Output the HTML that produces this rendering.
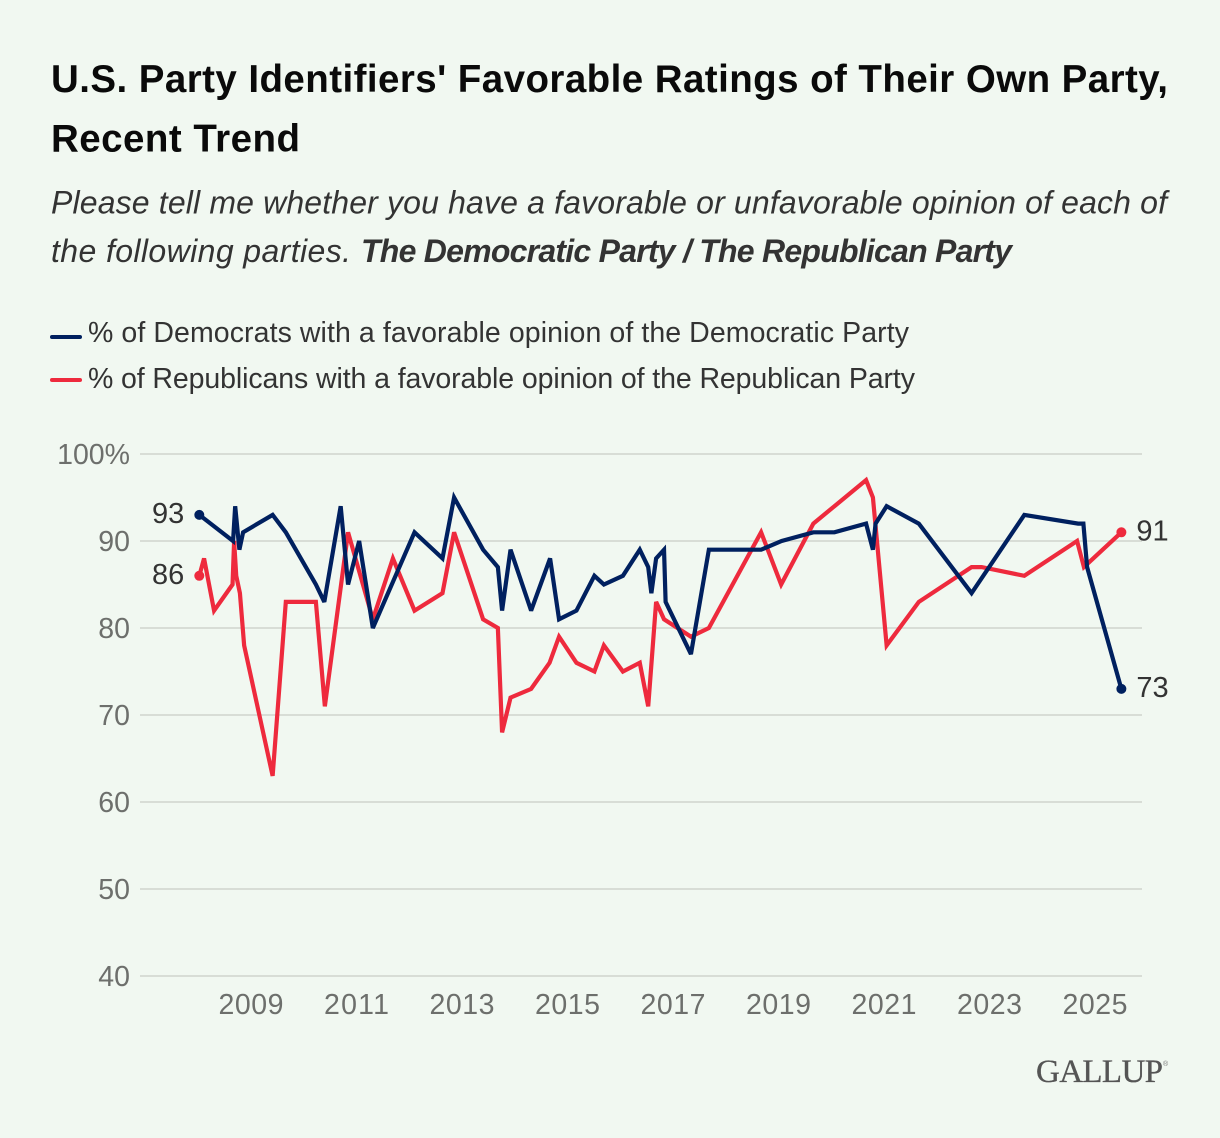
<!DOCTYPE html>
<html lang="en">
<head>
<meta charset="utf-8">
<title>U.S. Party Identifiers' Favorable Ratings of Their Own Party</title>
<style>
html,body{margin:0;padding:0;background:#f1f8f1;}
svg{display:block;font-family:"Liberation Sans",sans-serif;}
</style>
</head>
<body>
<svg id="chart" xmlns="http://www.w3.org/2000/svg" width="1220" height="1138" viewBox="0 0 1220 1138">
  <rect x="0" y="0" width="1220" height="1138" fill="#f1f8f1"/>
  <text x="51" y="92" font-size="38.5" font-weight="700" fill="#0a0a0a" textLength="1117" lengthAdjust="spacing">U.S. Party Identifiers' Favorable Ratings of Their Own Party,</text>
  <text x="51" y="151.5" font-size="38.5" font-weight="700" fill="#0a0a0a" textLength="249" lengthAdjust="spacing">Recent Trend</text>
  <text x="51" y="213.5" font-size="32" font-style="italic" fill="#333" textLength="1116" lengthAdjust="spacing">Please tell me whether you have a favorable or unfavorable opinion of each of</text>
  <text x="51" y="262" font-size="32" font-style="italic" fill="#333" textLength="300" lengthAdjust="spacing">the following parties.</text>
  <text x="361" y="262" font-size="32" font-style="italic" font-weight="700" fill="#333" textLength="651" lengthAdjust="spacing">The Democratic Party / The Republican Party</text>

  <line x1="52" y1="337" x2="80" y2="337" stroke="#00205f" stroke-width="4" stroke-linecap="round"/>
  <text x="88" y="342" font-size="28.5" fill="#333" textLength="821" lengthAdjust="spacing">% of Democrats with a favorable opinion of the Democratic Party</text>
  <line x1="52" y1="380" x2="80" y2="380" stroke="#ee2a3d" stroke-width="4" stroke-linecap="round"/>
  <text x="88" y="388" font-size="28.5" fill="#333" textLength="827" lengthAdjust="spacing">% of Republicans with a favorable opinion of the Republican Party</text>

  <g id="grid"></g>
  <g id="ylabels"></g>
  <g id="xlabels"></g>
  <g id="series"></g>
  <g id="endlabels"></g>

  <text x="1036" y="1082" font-family="'Liberation Serif',serif" font-size="33" fill="#555" stroke="#555" stroke-width="0.3" textLength="127" lengthAdjust="spacing">GALLUP</text>
  <text x="1163" y="1066" font-family="'Liberation Sans',sans-serif" font-size="7" fill="#777">®</text>
</svg>
<script>
const yTicks = [40, 50, 60, 70, 80, 90, 100];
const xTicks = [2009, 2011, 2013, 2015, 2017, 2019, 2021, 2023, 2025];

const demDates = [2008.02, 2008.66, 2008.70, 2008.78, 2008.85, 2009.41, 2009.66, 2010.23, 2010.39, 2010.70, 2010.84, 2011.05, 2011.31, 2012.10, 2012.63, 2012.85, 2013.40, 2013.68, 2013.76, 2013.92, 2014.31, 2014.67, 2014.84, 2015.17, 2015.51, 2015.69, 2016.05, 2016.37, 2016.53, 2016.59, 2016.68, 2016.83, 2016.86, 2017.34, 2017.68, 2018.67, 2019.06, 2019.66, 2020.06, 2020.66, 2020.79, 2020.84, 2021.05, 2021.66, 2022.66, 2023.66, 2024.68, 2024.78, 2024.85, 2025.50];
const demValues = [93, 90, 94, 89, 91, 93, 91, 85, 83, 94, 85, 90, 80, 91, 88, 95, 89, 87, 82, 89, 82, 88, 81, 82, 86, 85, 86, 89, 87, 84, 88, 89, 83, 77, 89, 89, 90, 91, 91, 92, 89, 92, 94, 92, 84, 93, 92, 92, 87, 73];

const repDates = [2008.02, 2008.11, 2008.30, 2008.65, 2008.68, 2008.72, 2008.79, 2008.87, 2009.41, 2009.66, 2010.23, 2010.40, 2010.84, 2011.31, 2011.69, 2012.10, 2012.63, 2012.85, 2013.40, 2013.68, 2013.76, 2013.92, 2014.31, 2014.66, 2014.84, 2015.17, 2015.51, 2015.69, 2016.05, 2016.37, 2016.53, 2016.68, 2016.83, 2017.34, 2017.68, 2018.67, 2019.05, 2019.66, 2020.06, 2020.66, 2020.79, 2021.05, 2021.66, 2022.66, 2022.85, 2023.66, 2024.66, 2024.79, 2025.50];
const repValues = [86, 88, 82, 85, 90, 86, 84, 78, 63, 83, 83, 71, 91, 81, 88, 82, 84, 91, 81, 80, 68, 72, 73, 76, 79, 76, 75, 78, 75, 76, 71, 83, 81, 79, 80, 91, 85, 92, 94, 97, 95, 78, 83, 87, 87, 86, 90, 87, 91];

const NS = 'http://www.w3.org/2000/svg';
function xScale(year) { return 251 + (year - 2009) * 52.75; }
function yScale(v) { return 976 - (v - 40) * 8.7; }
function make(tag, attrs, parent, content) {
  const el = document.createElementNS(NS, tag);
  for (const k in attrs) el.setAttribute(k, attrs[k]);
  if (content !== undefined) el.textContent = content;
  parent.appendChild(el);
  return el;
}
const grid = document.getElementById('grid');
const ylabels = document.getElementById('ylabels');
const xlabels = document.getElementById('xlabels');
const series = document.getElementById('series');
const endlabels = document.getElementById('endlabels');

yTicks.forEach(function (t) {
  const line = make('line', {x1: 140, x2: 1142, y1: yScale(t), y2: yScale(t), stroke: '#d8ddd6', 'stroke-width': 2}, grid);
  
  
  const label = make('text', {x: 130, y: yScale(t) + 10, 'text-anchor': 'end', 'font-size': 28.5, fill: '#6d6f6c'}, ylabels, t === 100 ? t + '%' : String(t));
  
  
});

xTicks.forEach(function (t) {
  const label = make('text', {x: xScale(t), y: 1014, 'text-anchor': 'middle', 'font-size': 28.5, fill: '#6d6f6c', textLength: 65, lengthAdjust: 'spacing'}, xlabels, String(t));
  
  
});

function pathFor(dates, values) {
  return dates.map(function (d, i) {
    return (i ? 'L' : 'M') + xScale(d).toFixed(2) + ' ' + yScale(values[i]).toFixed(2);
  }).join(' ');
}

const repLine = make('path', {d: pathFor(repDates, repValues), fill: 'none', stroke: '#ee2a3d', 'stroke-width': 4.2, 'stroke-linejoin': 'miter', 'stroke-miterlimit': 3}, series);


const demLine = make('path', {d: pathFor(demDates, demValues), fill: 'none', stroke: '#00205f', 'stroke-width': 4.2, 'stroke-linejoin': 'miter', 'stroke-miterlimit': 3}, series);



function endDot(dates, values, i, color, name) {
  const dot = make('circle', {cx: xScale(dates[i]), cy: yScale(values[i]), r: 5, fill: color}, series);
  
  
}
endDot(repDates, repValues, 0, '#ee2a3d', 'republicans-start-point');
endDot(repDates, repValues, repDates.length - 1, '#ee2a3d', 'republicans-end-point');
endDot(demDates, demValues, 0, '#00205f', 'democrats-start-point');
endDot(demDates, demValues, demDates.length - 1, '#00205f', 'democrats-end-point');

function endLabel(dates, values, i, dx, anchor, name) {
  const t = make('text', {x: xScale(dates[i]) + dx, y: yScale(values[i]) + 8, 'text-anchor': anchor, 'font-size': 29, fill: '#333'}, endlabels, String(values[i]));
  
  
}
endLabel(demDates, demValues, 0, -15, 'end', 'democrats-start-label');
endLabel(repDates, repValues, 0, -15, 'end', 'republicans-start-label');
endLabel(repDates, repValues, repDates.length - 1, 15, 'start', 'republicans-end-label');
endLabel(demDates, demValues, demDates.length - 1, 15, 'start', 'democrats-end-label');
</script>
</body>
</html>
